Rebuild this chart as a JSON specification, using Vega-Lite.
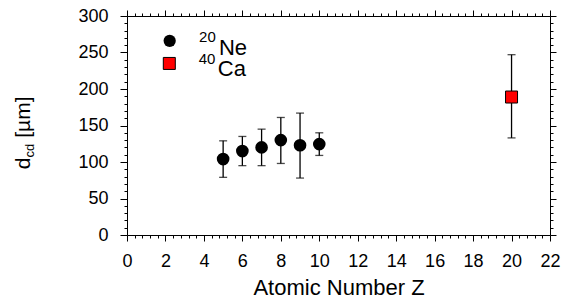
{
  "$schema": "https://vega.github.io/schema/vega-lite/v6.json",
  "width": 423,
  "height": 219,
  "autosize": "none",
  "padding": {"left": 127, "top": 16, "right": 13, "bottom": 72},
  "background": "white",
  "config": {
    "view": {"stroke": null},
    "axis": {
      "grid": false,
      "domainColor": "black",
      "tickColor": "black",
      "labelColor": "black",
      "titleColor": "black",
      "labelFont": "Liberation Sans",
      "titleFont": "Liberation Sans",
      "labelFontSize": 18,
      "titleFontSize": 22,
      "titleFontWeight": "normal",
      "domainWidth": 1,
      "tickWidth": 1
    },
    "text": {"font": "Liberation Sans", "color": "black"}
  },
  "datasets": {
    "ne": [
      {"Z": 5, "d": 104, "lo": 79, "hi": 129},
      {"Z": 6, "d": 115, "lo": 95, "hi": 135},
      {"Z": 7, "d": 120, "lo": 95, "hi": 145},
      {"Z": 8, "d": 130, "lo": 98, "hi": 161},
      {"Z": 9, "d": 123, "lo": 78, "hi": 167},
      {"Z": 10, "d": 124.5, "lo": 109, "hi": 140}
    ],
    "ca": [
      {"Z": 20, "d": 189, "lo": 133, "hi": 247}
    ],
    "one": [{}]
  },
  "resolve": {"axis": {"x": "independent", "y": "independent"}},
  "layer": [
    {
      "data": {"name": "ne"},
      "mark": {"type": "errorbar", "ticks": {"size": 8, "thickness": 1.3, "color": "black"}, "thickness": 1.3, "color": "black"},
      "encoding": {
        "x": {"field": "Z", "type": "quantitative", "scale": {"domain": [0, 22], "nice": false, "zero": false}, "axis": null},
        "y": {"field": "lo", "type": "quantitative", "scale": {"domain": [0, 300], "nice": false}, "axis": null},
        "y2": {"field": "hi"}
      }
    },
    {
      "data": {"name": "ca"},
      "mark": {"type": "errorbar", "ticks": {"size": 8, "thickness": 1.3, "color": "black"}, "thickness": 1.3, "color": "black"},
      "encoding": {
        "x": {"field": "Z", "type": "quantitative", "axis": null},
        "y": {"field": "lo", "type": "quantitative", "axis": null},
        "y2": {"field": "hi"}
      }
    },
    {
      "data": {"name": "ne"},
      "mark": {"type": "point", "shape": "circle", "filled": true, "size": 160, "color": "black", "opacity": 1},
      "encoding": {
        "x": {"field": "Z", "type": "quantitative", "scale": {"domain": [0, 22], "nice": false, "zero": false},
          "axis": {"orient": "bottom", "values": [0, 2, 4, 6, 8, 10, 12, 14, 16, 18, 20, 22], "tickSize": 6, "labelPadding": 11, "title": "Atomic Number Z", "titlePadding": 7, "labelFlush": false}},
        "y": {"field": "d", "type": "quantitative", "scale": {"domain": [0, 300], "nice": false},
          "axis": {"orient": "left", "values": [0, 50, 100, 150, 200, 250, 300], "tickSize": 7, "labelPadding": 12, "title": null}}
      }
    },
    {
      "data": {"name": "ca"},
      "mark": {"type": "point", "shape": "square", "filled": true, "size": 144, "fill": "#ff0000", "stroke": "#000000", "strokeWidth": 1, "opacity": 1},
      "encoding": {
        "x": {"field": "Z", "type": "quantitative",
          "axis": {"orient": "bottom", "values": [0.4,0.8,1.2,1.6,2.4,2.8,3.2,3.6,4.4,4.8,5.2,5.6,6.4,6.8,7.2,7.6,8.4,8.8,9.2,9.6,10.4,10.8,11.2,11.6,12.4,12.8,13.2,13.6,14.4,14.8,15.2,15.6,16.4,16.8,17.2,17.6,18.4,18.8,19.2,19.6,20.4,20.8,21.2,21.6], "tickSize": 3, "labels": false, "domain": false, "title": null}},
        "y": {"field": "d", "type": "quantitative",
          "axis": {"orient": "left", "values": [10,20,30,40,60,70,80,90,110,120,130,140,160,170,180,190,210,220,230,240,260,270,280,290], "tickSize": 3, "labels": false, "domain": false, "title": null}}
      }
    },
    {
      "data": {"name": "one"},
      "mark": {"type": "point", "shape": "circle", "filled": true, "size": 150, "color": "black", "opacity": 1},
      "encoding": {
        "x": {"datum": 2.22, "type": "quantitative",
          "axis": {"orient": "top", "values": [0, 2, 4, 6, 8, 10, 12, 14, 16, 18, 20, 22], "tickSize": 6, "labels": false, "title": null}},
        "y": {"datum": 266, "type": "quantitative",
          "axis": {"orient": "right", "values": [0, 50, 100, 150, 200, 250, 300], "tickSize": 6, "labels": false, "title": null}}
      }
    },
    {
      "data": {"name": "one"},
      "mark": {"type": "point", "shape": "square", "filled": true, "size": 144, "fill": "#ff0000", "stroke": "#000000", "strokeWidth": 1, "opacity": 1},
      "encoding": {
        "x": {"datum": 2.2, "type": "quantitative",
          "axis": {"orient": "top", "values": [0.4,0.8,1.2,1.6,2.4,2.8,3.2,3.6,4.4,4.8,5.2,5.6,6.4,6.8,7.2,7.6,8.4,8.8,9.2,9.6,10.4,10.8,11.2,11.6,12.4,12.8,13.2,13.6,14.4,14.8,15.2,15.6,16.4,16.8,17.2,17.6,18.4,18.8,19.2,19.6,20.4,20.8,21.2,21.6], "tickSize": 3, "labels": false, "domain": false, "title": null}},
        "y": {"datum": 235, "type": "quantitative",
          "axis": {"orient": "right", "values": [10,20,30,40,60,70,80,90,110,120,130,140,160,170,180,190,210,220,230,240,260,270,280,290], "tickSize": 3, "labels": false, "domain": false, "title": null}}
      }
    },
    {
      "data": {"name": "one"},
      "mark": {"type": "text", "align": "left", "baseline": "alphabetic", "fontSize": 22},
      "encoding": {
        "x": {"datum": 4.78, "type": "quantitative", "axis": null},
        "y": {"datum": 247, "type": "quantitative", "axis": null},
        "text": {"value": "Ne"}
      }
    },
    {
      "data": {"name": "one"},
      "mark": {"type": "text", "align": "left", "baseline": "alphabetic", "fontSize": 15},
      "encoding": {
        "x": {"datum": 3.75, "type": "quantitative", "axis": null},
        "y": {"datum": 264, "type": "quantitative", "axis": null},
        "text": {"value": "20"}
      }
    },
    {
      "data": {"name": "one"},
      "mark": {"type": "text", "align": "left", "baseline": "alphabetic", "fontSize": 22},
      "encoding": {
        "x": {"datum": 4.72, "type": "quantitative", "axis": null},
        "y": {"datum": 217.5, "type": "quantitative", "axis": null},
        "text": {"value": "Ca"}
      }
    },
    {
      "data": {"name": "one"},
      "mark": {"type": "text", "align": "left", "baseline": "alphabetic", "fontSize": 15},
      "encoding": {
        "x": {"datum": 3.73, "type": "quantitative", "axis": null},
        "y": {"datum": 234, "type": "quantitative", "axis": null},
        "text": {"value": "40"}
      }
    },
    {
      "data": {"name": "one"},
      "mark": {"type": "text", "align": "left", "baseline": "alphabetic", "fontSize": 21, "angle": 270},
      "encoding": {
        "x": {"datum": -5.07, "type": "quantitative", "axis": null},
        "y": {"datum": 90, "type": "quantitative", "axis": null},
        "text": {"value": "d"}
      }
    },
    {
      "data": {"name": "one"},
      "mark": {"type": "text", "align": "left", "baseline": "alphabetic", "fontSize": 13, "angle": 270, "dx": 11.7, "dy": 4},
      "encoding": {
        "x": {"datum": -5.07, "type": "quantitative", "axis": null},
        "y": {"datum": 90, "type": "quantitative", "axis": null},
        "text": {"value": "cd"}
      }
    },
    {
      "data": {"name": "one"},
      "mark": {"type": "text", "align": "left", "baseline": "alphabetic", "fontSize": 21, "angle": 270, "dx": 31.5},
      "encoding": {
        "x": {"datum": -5.07, "type": "quantitative", "axis": null},
        "y": {"datum": 90, "type": "quantitative", "axis": null},
        "text": {"value": "[µm]"}
      }
    }
  ]
}
